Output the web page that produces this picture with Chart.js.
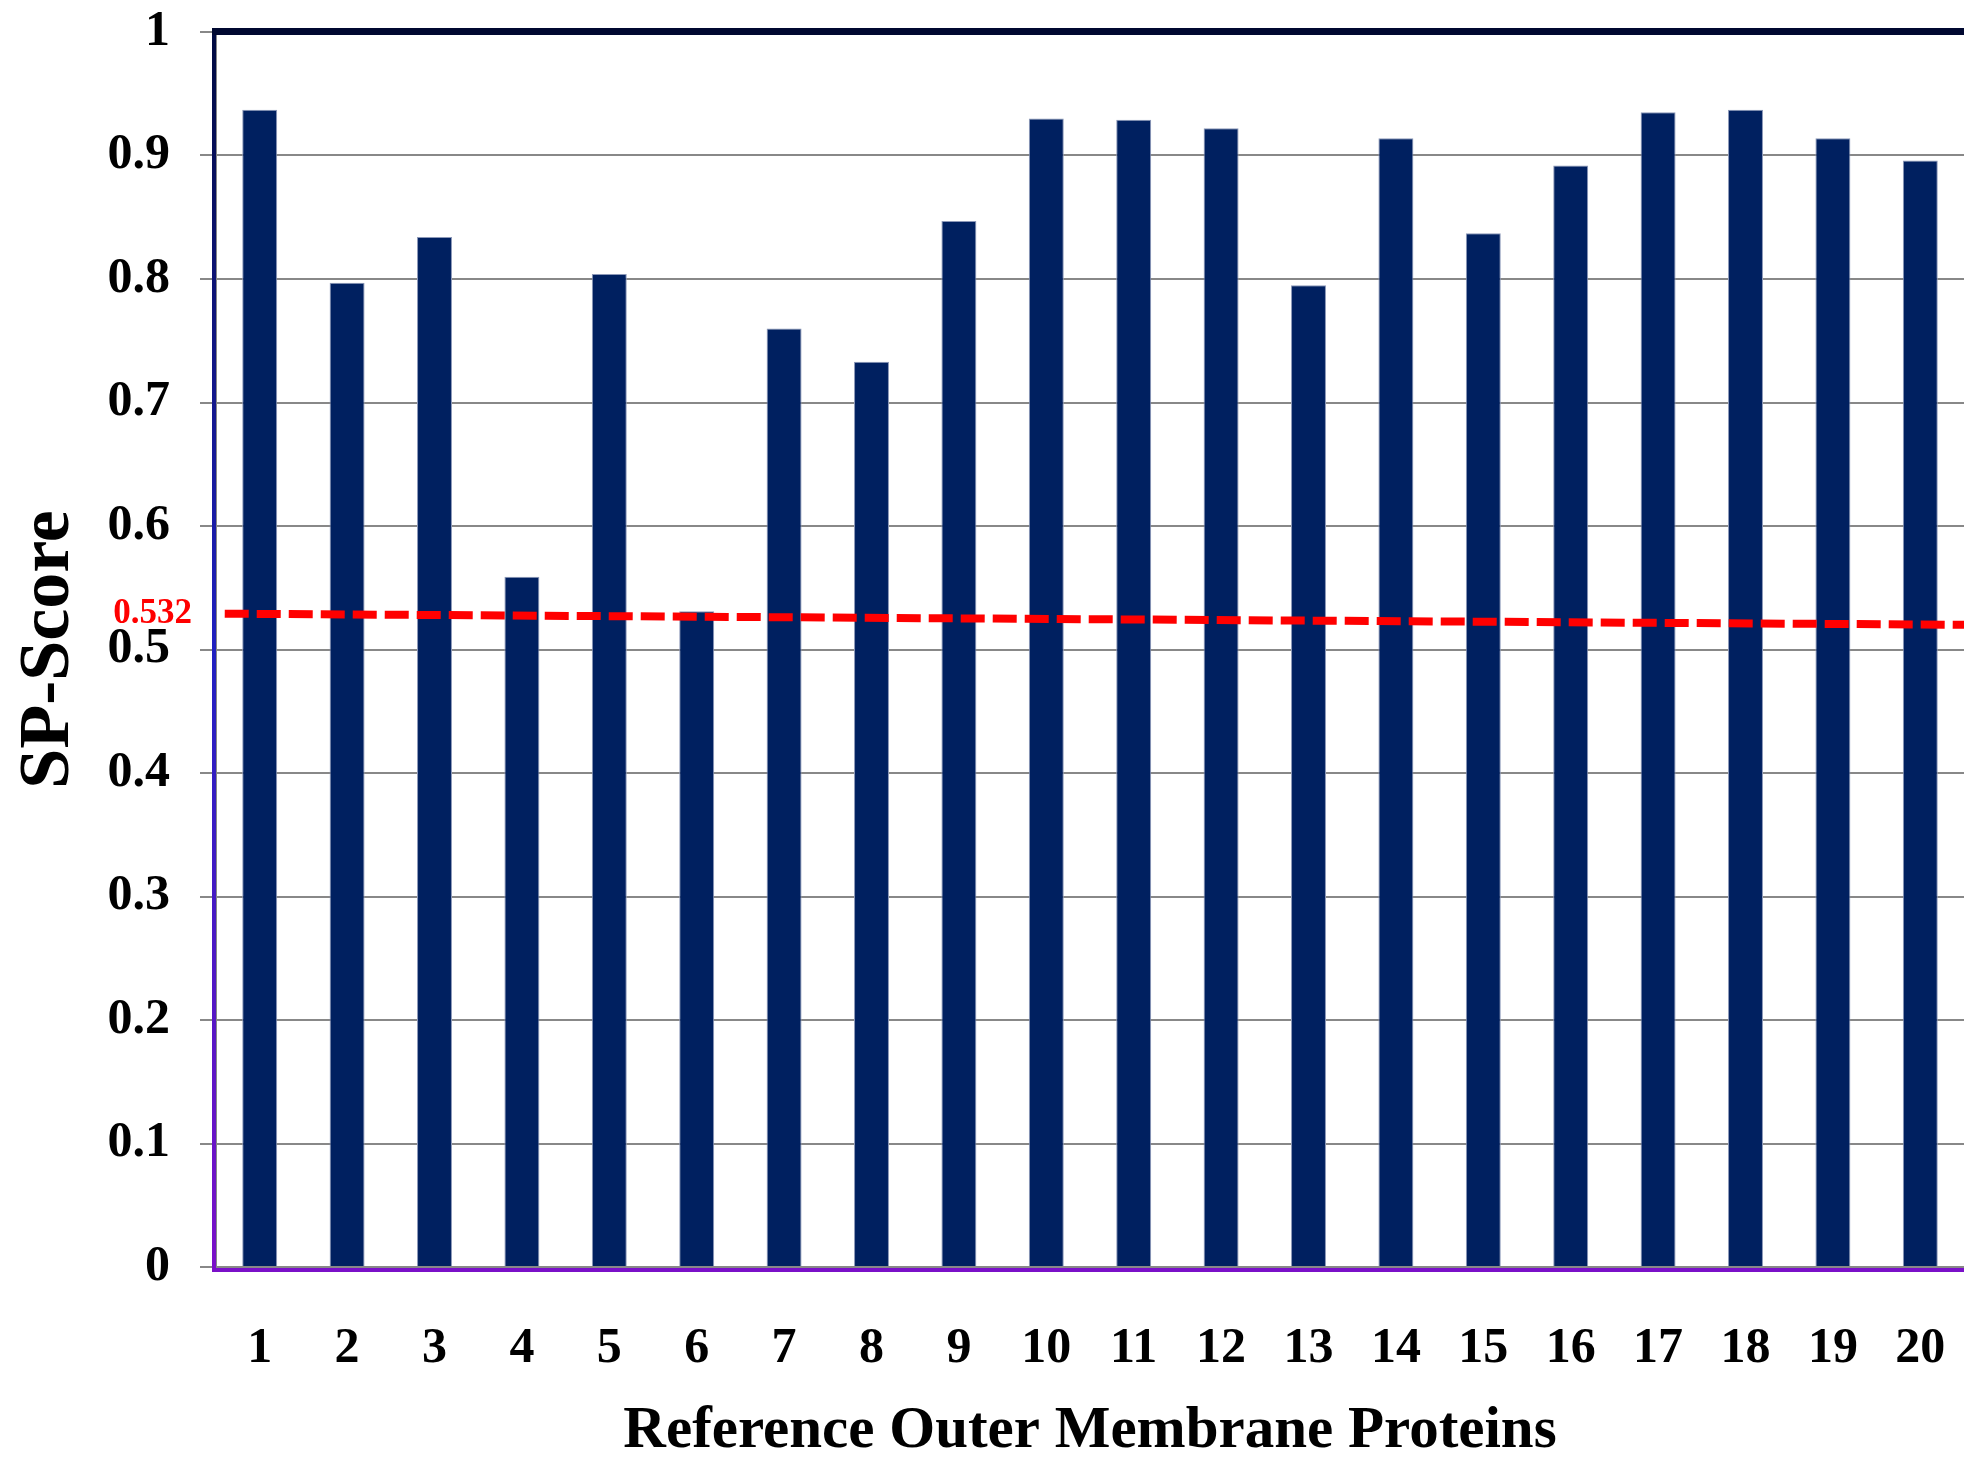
<!DOCTYPE html>
<html>
<head>
<meta charset="utf-8">
<script src="https://cdn.jsdelivr.net/npm/chart.js@4.4.1/dist/chart.umd.min.js"></script>
<style>
  html, body { margin: 0; padding: 0; background: #fff; }
  #wrap { width: 1964px; height: 1459px; position: relative; }
</style>
</head>
<body>
<div id="wrap"><canvas id="spChart"></canvas></div>
<script>
// chart data
var proteins = ['1', '2', '3', '4', '5', '6', '7', '8', '9', '10',
                '11', '12', '13', '14', '15', '16', '17', '18', '19', '20'];
var spScores = [0.937, 0.797, 0.834, 0.559, 0.804, 0.531, 0.760, 0.733, 0.847, 0.930,
                0.929, 0.922, 0.795, 0.914, 0.837, 0.892, 0.935, 0.937, 0.914, 0.896];
var yTickLabels = ['0', '0.1', '0.2', '0.3', '0.4', '0.5', '0.6', '0.7', '0.8', '0.9', '1'];
// dashed threshold line (ends)
var trendX = [0.1, 20];
var trendY = [0.529, 0.520];
var thresholdLabel = '0.532';
var thresholdValue = 0.532;

var serif = '"Liberation Serif", "Times New Roman", serif';

var frame = {
    id: 'frame',
    afterDraw: function (chart) {
        var c = chart.ctx, a = chart.chartArea;
        c.save();
        // bottom purple border
        c.fillStyle = '#7a10c8';
        c.fillRect(a.left - 4, a.bottom - 1, a.right - a.left + 4, 6);
        c.fillStyle = '#888888';
        c.fillRect(a.left, a.bottom - 1, a.right - a.left, 2);
        // left border, navy to purple
        var g = c.createLinearGradient(0, a.top, 0, a.bottom);
        g.addColorStop(0, '#000a40');
        g.addColorStop(0.5, '#2020c0');
        g.addColorStop(1, '#7a10c8');
        c.fillStyle = g;
        c.fillRect(a.left - 4, a.top - 3, 4, a.bottom - a.top + 8);
        // top border
        c.fillStyle = '#000830';
        c.fillRect(a.left - 4, a.top - 4, a.right - a.left + 4, 7);
        // threshold label
        var y = chart.scales.y.getPixelForValue(thresholdValue);
        c.fillStyle = '#ff0000';
        c.font = 'bold 35px ' + serif;
        c.textAlign = 'right';
        c.textBaseline = 'middle';
        c.fillText(thresholdLabel, a.left - 24, y + 4);
        c.restore();
    }
};

new Chart(document.getElementById('spChart').getContext('2d'), {
    data: {
        labels: proteins,
        datasets: [{
            type: 'line',
            xAxisID: 'x2',
            data: trendX.map(function (x, i) { return { x: x, y: trendY[i] }; }),
            borderColor: '#ff0000',
            borderWidth: 8,
            borderDash: [24, 8],
            pointRadius: 0,
            fill: false,
            order: 0
        }, {
            type: 'bar',
            data: spScores,
            backgroundColor: '#002060',
            borderColor: '#8c98b8',
            borderWidth: 1,
            grouped: false,
            barPercentage: 0.4,
            categoryPercentage: 1,
            order: 1
        }]
    },
    options: {
        responsive: true,
        maintainAspectRatio: false,
        animation: false,
        layout: { padding: { top: 32, right: 0, left: 0, bottom: 0 } },
        plugins: {
            legend: { display: false },
            tooltip: { enabled: false }
        },
        scales: {
            x: {
                grid: { display: true, drawOnChartArea: false, drawTicks: true,
                        tickLength: 52, color: 'rgba(0,0,0,0)' },
                border: { display: false },
                ticks: {
                    color: '#000',
                    padding: 0,
                    maxRotation: 0,
                    font: { family: serif, size: 50, weight: 'bold' }
                },
                title: {
                    display: true,
                    text: 'Reference Outer Membrane Proteins',
                    color: '#000',
                    padding: { top: 0, bottom: -2 },
                    font: { family: serif, size: 59, weight: 'bold', lineHeight: 1 }
                },
                afterFit: function (s) { s.height = 192; }
            },
            x2: {
                type: 'linear',
                display: false,
                min: 0,
                max: 20
            },
            y: {
                min: 0,
                max: 1,
                ticks: {
                    stepSize: 0.1,
                    color: '#000',
                    padding: 30,
                    font: { family: serif, size: 50, weight: 'bold' },
                    callback: function (v, i) { return yTickLabels[i]; }
                },
                grid: { color: '#888888', lineWidth: 2, tickLength: 16 },
                border: { display: true, color: '#888888', width: 2 },
                title: {
                    display: true,
                    text: 'SP-Score',
                    color: '#000',
                    padding: { top: 6, bottom: 0 },
                    font: { family: serif, size: 72, weight: 'bold' }
                },
                afterFit: function (s) {
                    s.width = 216;
                    s.paddingTop = 0;
                    s.paddingBottom = 0;
                }
            }
        }
    },
    plugins: [frame]
});
</script>
</body>
</html>
